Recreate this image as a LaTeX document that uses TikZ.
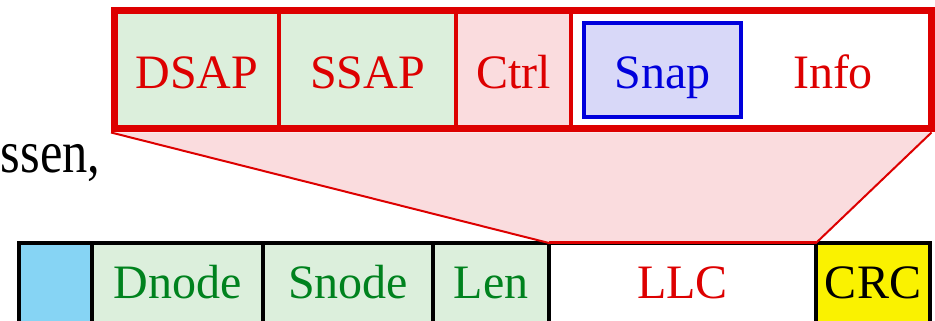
\documentclass[tikz,border=0pt]{standalone}
\usepackage{fontspec}
\setmainfont{Liberation Serif}
\usetikzlibrary{positioning,calc}
\definecolor{framered}{RGB}{221,0,0}
\definecolor{fieldgreen}{RGB}{0,130,30}
\definecolor{snapblue}{RGB}{0,0,220}
\definecolor{greenfill}{RGB}{220,239,220}
\definecolor{pinkfill}{RGB}{250,220,222}
\definecolor{bluefill}{RGB}{216,216,248}
\definecolor{hdrcyan}{RGB}{134,212,244}
\definecolor{crcyellow}{RGB}{250,242,0}

\begin{document}
\begin{tikzpicture} [x=1pt, y=1pt,
    every node/.style={inner sep=0, outer sep=0, font=\fontsize{48}{48}\selectfont},
    llcfield/.style={draw=framered, line width=4pt, minimum height=118.5pt, text height=38.5pt, text depth=0pt},
    macfield/.style={draw=black, line width=4pt, minimum height=98pt, text height=14pt, text depth=0pt},
    funnel/.style={fill=pinkfill, draw=framered, line width=2pt, line join=miter},]
\useasboundingbox (0,0) rectangle (935,321);

\node[anchor=base east, font=\fontsize{50.5}{50.5}\selectfont] (caption) at (100.5,148) {\scalebox{1}[1.18]{ssen,}};

\node[macfield, fill=hdrcyan, minimum width=73pt] (hdr) at (55.5,29) {};
\node[macfield, fill=greenfill, text=fieldgreen, minimum width=171pt] (dnode) at (177.5,29) {Dnode};
\node[macfield, fill=greenfill, text=fieldgreen, minimum width=170pt] (snode) at (348,29) {Snode};
\node[macfield, fill=greenfill, text=fieldgreen, minimum width=116pt] (len) at (491,29) {Len};
\node[macfield, fill=white, text=framered, minimum width=267pt] (llc) at (682.5,29) {LLC};
\node[macfield, fill=crcyellow, text=black, minimum width=114pt] (crc) at (873,29) {CRC};

\node[llcfield, fill=greenfill, text=framered, minimum width=164.5pt] (dsap) at (196.75,251.25) {DSAP};
\node[llcfield, fill=greenfill, text=framered, minimum width=177pt] (ssap) at (367.5,251.25) {SSAP};
\node[llcfield, fill=pinkfill, text=framered, minimum width=115pt] (ctrl) at (513.5,251.25) {Ctrl};
\node[llcfield, fill=white, minimum width=360.5pt] (info) at (751.25,251.25) {};
\node[draw=snapblue, fill=bluefill, text=snapblue, line width=4pt, minimum width=157pt, minimum height=94pt, text height=38pt, text depth=0pt] (snap) at (662.5,251) {Snap};
\node[text=framered, text height=38.5pt, text depth=0pt] (infolbl) at (833,251.25) {Info};
\draw[framered, line width=7pt] (dsap.north west) rectangle (info.south east);

\draw[funnel] ($(dsap.south west)+(-3.5,-3.5)$) -- (llc.north west) -- (llc.north east) -- ($(info.south east)+(0,-3.5)$);
\draw[framered, line width=3pt] (llc.north west) -- (llc.north east);

\end{tikzpicture}
\end{document}
